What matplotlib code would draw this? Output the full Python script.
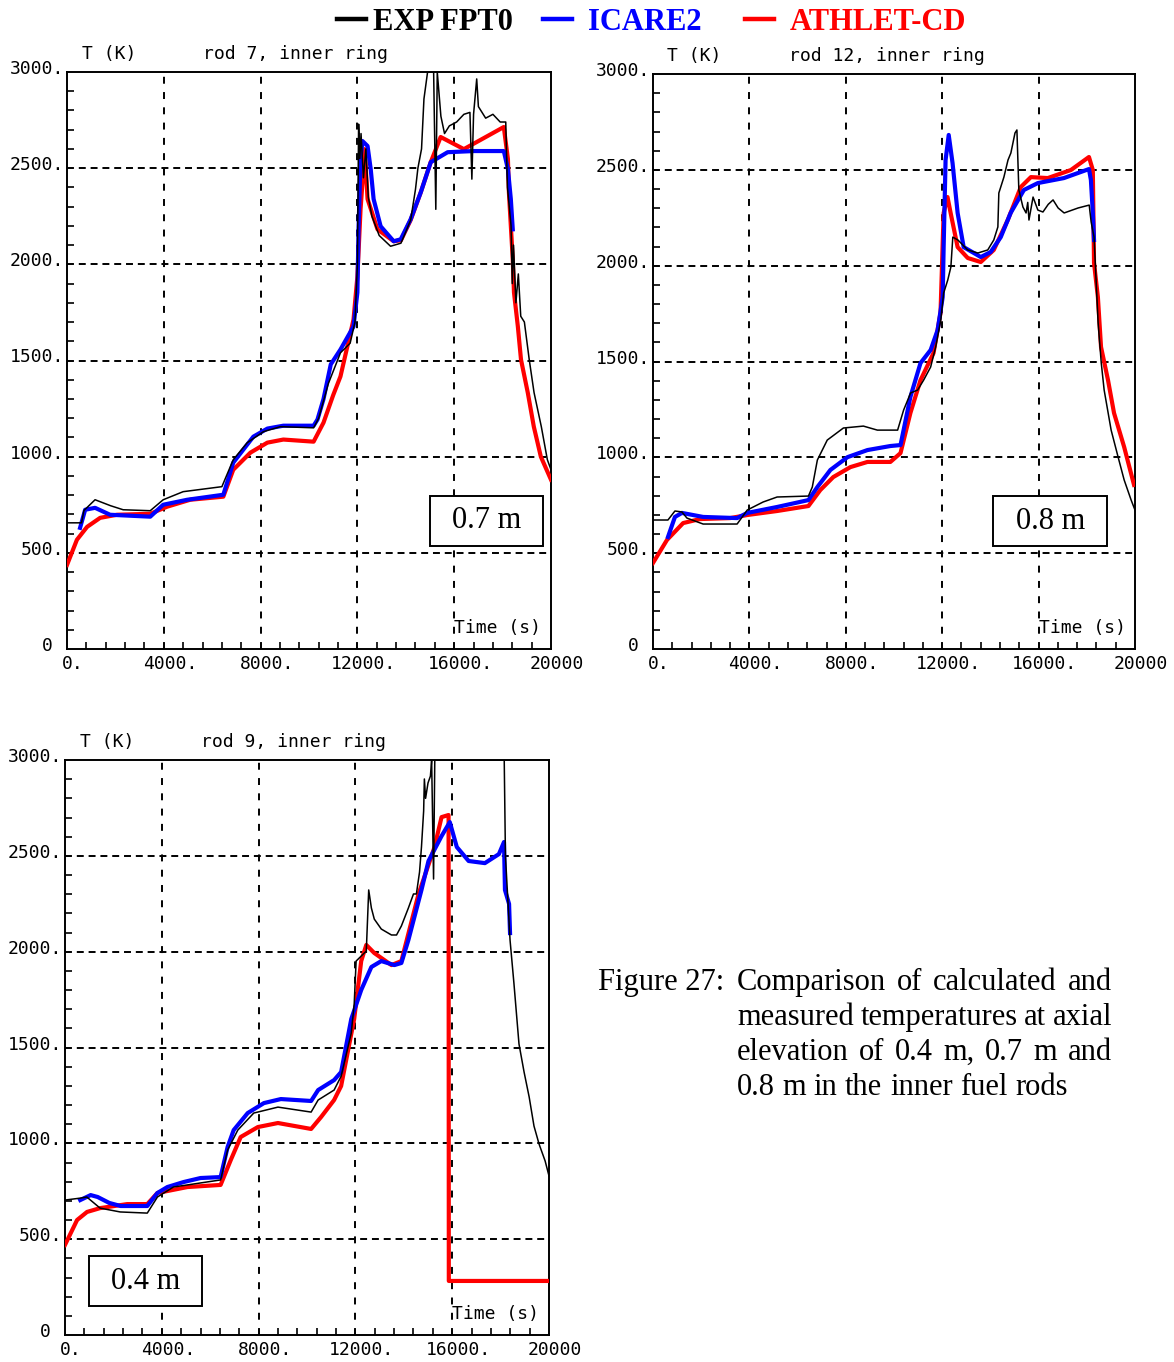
import matplotlib
matplotlib.use("Agg")
import matplotlib.pyplot as plt
from matplotlib.ticker import MultipleLocator
from matplotlib.lines import Line2D
from matplotlib.patches import Rectangle
from matplotlib.transforms import ScaledTranslation

plt.rcParams['lines.scale_dashes'] = False

W, H = 1174, 1362

# ---- rod 7, 0.7 m ----
exp7_t = [0, 600, 700, 1160, 1800, 2320, 3440, 3975, 4800, 6400, 6870, 7450, 8120, 8820, 10190,
          10400, 10800, 11300, 11700, 11900, 12000, 12050, 12100, 12150, 12250, 12350, 12450,
          12600, 12900, 13370, 13800, 14200, 14400, 14500, 14650, 14750, 14900, 15150, 15240,
          15300, 15450, 15600, 15800, 16100, 16400, 16650, 16730, 16800, 16930, 17000, 17300,
          17600, 17900, 18130, 18200, 18350, 18400, 18450, 18550, 18650, 18750, 18900, 19100,
          19300, 19600, 19850, 20000]
exp7_T = [656, 656, 720, 776, 745, 724, 719, 776, 818, 844, 984, 1073, 1130, 1156, 1150,
          1200, 1380, 1540, 1590, 1700, 2000, 2729, 2550, 2680, 2450, 2600, 2350,
          2250, 2150, 2094, 2110, 2230, 2390, 2500, 2600, 2860, 3000, 3000, 2286,
          3000, 2770, 2680, 2720, 2740, 2780, 2790, 2443, 2780, 2964, 2820, 2760,
          2780, 2740, 2740, 2400, 2200, 1900, 2100, 1800, 1950, 1730, 1700, 1505,
          1333, 1156, 984, 932]
icare7_t = [540, 750, 1160, 1780, 3440, 3975, 4970, 6460, 6870, 7700, 8280, 8940, 10190, 10350,
            10600, 10900, 11300, 11840, 12000, 12050, 12130, 12210, 12420, 12550, 12670, 12960,
            13500, 13790, 14200, 14620, 15030, 15730, 16810, 18050, 18220, 18340, 18420]
icare7_T = [630, 724, 734, 698, 688, 750, 776, 802, 969, 1104, 1146, 1161, 1161, 1193,
            1300, 1480, 1557, 1677, 1854, 2198, 2547, 2641, 2615, 2495, 2339, 2198,
            2120, 2130, 2234, 2375, 2531, 2583, 2589, 2589, 2495, 2339, 2182]
athlet7_t = [0, 410, 830, 1370, 2070, 3440, 4140, 5090, 6460, 6870, 7580, 8280, 8940, 10190,
             10600, 11000, 11300, 11840, 12000, 12130, 12250, 12300, 12420, 12830, 13500, 13800,
             14200, 14620, 15030, 15440, 16400, 18050, 18220, 18260, 18420, 18470, 18630, 18760,
             19040, 19290, 19580, 20000]
athlet7_T = [437, 568, 635, 682, 698, 703, 740, 776, 792, 932, 1021, 1073, 1089, 1078,
             1177, 1320, 1417, 1713, 1937, 2286, 2495, 2599, 2339, 2182, 2120, 2125,
             2230, 2375, 2531, 2662, 2599, 2714, 2547, 2375, 2026, 1854, 1677, 1505,
             1333, 1156, 1000, 880]

# ---- rod 12, 0.8 m ----
exp12_t = [0, 620, 910, 1200, 1410, 2080, 3490, 3910, 4570, 5150, 6450, 6610, 6820, 7230, 7900,
           8730, 9310, 10150, 10400, 10690, 10980, 11230, 11520, 11730, 11940, 12060, 12230,
           12360, 12440, 12650, 13060, 13480, 13890, 14140, 14310, 14350, 14560, 14730, 14850,
           15020, 15100, 15180, 15350, 15480, 15550, 15600, 15770, 15970, 16180, 16400, 16600,
           16810, 17060, 17640, 18100, 18180, 18300, 18470, 18600, 18720, 19010, 19300, 19550,
           19840, 20000]
exp12_T = [673, 673, 720, 715, 683, 652, 652, 725, 767, 793, 798, 845, 986, 1090, 1153,
           1163, 1142, 1142, 1247, 1336, 1351, 1403, 1471, 1576, 1716, 1857, 1925,
           1993, 2149, 2134, 2082, 2066, 2082, 2134, 2202, 2379, 2462, 2551, 2588,
           2692, 2708, 2395, 2306, 2275, 2330, 2238, 2358, 2290, 2280, 2320, 2343,
           2301, 2275, 2301, 2316, 2228, 2150, 1701, 1492, 1351, 1142, 1001, 882,
           777, 725]
icare12_t = [620, 910, 1200, 2080, 3490, 3910, 5150, 6450, 6820, 7360, 8070, 8900, 9850, 10270,
             10680, 11100, 11520, 11810, 12020, 12060, 12140, 12270, 12430, 12640, 12890, 13600,
             14010, 14430, 14840, 15390, 15970, 17050, 18090, 18170, 18250, 18300]
icare12_T = [584, 689, 710, 689, 683, 710, 741, 777, 845, 934, 1001, 1038, 1059, 1064,
             1315, 1492, 1560, 1664, 1836, 2097, 2551, 2682, 2535, 2275, 2097, 2045,
             2071, 2149, 2275, 2395, 2431, 2457, 2504, 2447, 2275, 2134]
athlet12_t = [0, 580, 1250, 1950, 3200, 3910, 5150, 6450, 6940, 7480, 8190, 8900, 9850, 10270,
              10680, 11100, 11640, 11930, 12060, 12220, 12350, 12640, 13060, 13600, 14140, 14720,
              15260, 15680, 16380, 17340, 18090, 18250, 18300, 18460, 18590, 18880, 19130, 19550,
              19960]
athlet12_T = [449, 569, 657, 678, 683, 699, 720, 746, 829, 897, 949, 976, 976, 1022,
              1231, 1403, 1544, 1753, 2275, 2358, 2275, 2097, 2040, 2019, 2082, 2238,
              2410, 2462, 2457, 2499, 2567, 2499, 2014, 1836, 1576, 1403, 1231, 1054,
              856]

# ---- rod 9, 0.4 m ----
exp9_t = [0, 620, 900, 1450, 2280, 3400, 3820, 4480, 6430, 6720, 7140, 7800, 8800, 10170,
          10460, 11120, 11410, 11830, 11950, 12030, 12450, 12550, 12660, 12780, 13070, 13490,
          13700, 13900, 14190, 14400, 14520, 14650, 14730, 14820, 14850, 14900, 15000, 15100,
          15150, 15230, 15280, 18150, 18200, 18390, 18550, 18760, 18970, 19180, 19380, 19590,
          19840, 20000]
exp9_T = [704, 714, 720, 662, 642, 636, 720, 772, 809, 965, 1069, 1158, 1189, 1163,
          1226, 1278, 1350, 1576, 1727, 1951, 2003, 2322, 2228, 2170, 2118, 2087,
          2087, 2134, 2228, 2301, 2301, 2415, 2546, 2734, 2901, 2800, 2880, 2916,
          3000, 2379, 3000, 3000, 2500, 2061, 1836, 1518, 1372, 1242, 1090, 996,
          908, 830]
icare9_t = [630, 1060, 1350, 1830, 2300, 3400, 3820, 4230, 4900, 5600, 6430, 6720, 6970, 7550,
            8220, 8920, 10170, 10460, 11120, 11410, 11830, 12240, 12660, 13070, 13610, 13900,
            14190, 14730, 15020, 15560, 15900, 16190, 16680, 17350, 17930, 18140, 18180, 18350,
            18390]
icare9_T = [704, 730, 720, 689, 673, 673, 741, 772, 798, 819, 824, 981, 1069, 1158,
            1210, 1231, 1221, 1278, 1330, 1372, 1649, 1800, 1920, 1951, 1930, 1941,
            2061, 2322, 2473, 2603, 2676, 2546, 2473, 2462, 2509, 2572, 2322, 2249,
            2097]
athlet9_t = [0, 500, 910, 1450, 2570, 3400, 3820, 5060, 6430, 6850, 7260, 7970, 8800, 10170,
             10580, 11120, 11410, 11950, 12240, 12450, 12780, 13490, 13900, 14610, 15270, 15560,
             15850, 15860, 20000]
athlet9_T = [470, 600, 642, 662, 683, 683, 741, 772, 783, 913, 1033, 1085, 1106, 1075,
             1137, 1226, 1299, 1649, 1951, 2035, 1993, 1930, 1951, 2301, 2546, 2702,
             2713, 282, 282]

x_ticks = [0, 4000, 8000, 12000, 16000, 20000]
x_ticklabels = ['0.', '4000.', '8000.', '12000.', '16000.', '20000']
y_ticks = [0, 500, 1000, 1500, 2000, 2500, 3000]
y_ticklabels = ['0 ', '500.', '1000.', '1500.', '2000.', '2500.', '3000.']

MONO = 'DejaVu Sans Mono'
SERIF = 'Liberation Serif'


def rect(x0, y0, x1, y1):
    return [x0 / W, 1 - y1 / H, (x1 - x0) / W, (y1 - y0) / H]


def panel(ax, exp, icare, athlet, title, tag, tag_box):
    for v in x_ticks[1:-1]:
        ax.axvline(v, color='k', lw=1.4, ls=(0, (5.0, 6.0)), zorder=1)
    for h in y_ticks[1:-1]:
        ax.axhline(h, color='k', lw=1.4, ls=(0, (5.0, 3.5)), zorder=1)

    ax.plot(*athlet, color='#ff0000', lw=3.0, zorder=3)
    ax.plot(*icare, color='#0000ff', lw=3.0, zorder=4)
    ax.plot(*exp, color='k', lw=1.1, zorder=5)

    ax.set_xlim(0, 20000)
    ax.set_ylim(0, 3000)
    ax.set_xticks(x_ticks)
    ax.set_xticklabels(x_ticklabels, fontfamily=MONO, fontsize=13)
    ax.set_yticks(y_ticks)
    ax.set_yticklabels(y_ticklabels, fontfamily=MONO, fontsize=13, va='center')
    ax.xaxis.set_minor_locator(MultipleLocator(800))
    ax.yaxis.set_minor_locator(MultipleLocator(100))
    ax.tick_params(which='major', length=0)
    ax.tick_params(axis='x', which='major', pad=4)
    ax.tick_params(axis='y', which='major', pad=2)
    ax.tick_params(which='minor', direction='in', length=5, width=1.2)
    for s in ax.spines.values():
        s.set_linewidth(1.4)

    # digits sit centred on the tick, the trailing dot hangs to the right
    shift_x = ScaledTranslation(6 / 100, 0, ax.figure.dpi_scale_trans)
    for lbl in ax.get_xticklabels():
        lbl.set_transform(lbl.get_transform() + shift_x)
    shift_y = ScaledTranslation(0, 3 / 100, ax.figure.dpi_scale_trans)
    for lbl in ax.get_yticklabels():
        lbl.set_transform(lbl.get_transform() + shift_y)

    ax.text(0.03, 1.015, 'T (K)', transform=ax.transAxes, fontfamily=MONO,
            fontsize=13, va='bottom')
    ax.text(0.282, 1.015, title, transform=ax.transAxes, fontfamily=MONO,
            fontsize=13, va='bottom')
    ax.text(0.80, 0.028, 'Time (s)', transform=ax.transAxes, fontfamily=MONO,
            fontsize=13, va='baseline')

    x0, y0, x1, y1 = tag_box
    ax.add_patch(Rectangle((x0, y0), x1 - x0, y1 - y0, transform=ax.transAxes,
                           facecolor='white', edgecolor='k', lw=1.4, zorder=6))
    ax.text((x0 + x1) / 2, (y0 + y1) / 2, tag, transform=ax.transAxes,
            fontfamily=SERIF, fontsize=22, ha='center', va='center', zorder=7)


fig = plt.figure(figsize=(W / 100, H / 100), dpi=100)

ax1 = fig.add_axes(rect(67, 72, 551, 649))
ax2 = fig.add_axes(rect(653, 74, 1135, 649))
ax3 = fig.add_axes(rect(65, 760, 549, 1335))

panel(ax1, (exp7_t, exp7_T), (icare7_t, icare7_T), (athlet7_t, athlet7_T),
      'rod 7, inner ring', '0.7 m', (0.75, 0.179, 0.983, 0.266))
panel(ax2, (exp12_t, exp12_T), (icare12_t, icare12_T), (athlet12_t, athlet12_T),
      'rod 12, inner ring', '0.8 m', (0.706, 0.179, 0.942, 0.266))
panel(ax3, (exp9_t, exp9_T), (icare9_t, icare9_T), (athlet9_t, athlet9_T),
      'rod 9, inner ring', '0.4 m', (0.05, 0.05, 0.283, 0.137))

# legend row across the top
legend_items = [('EXP FPT0', 'k', 337, 373), ('ICARE2', '#0000ff', 543, 588),
                ('ATHLET-CD', '#ff0000', 745, 790)]
for label, col, xl, xt in legend_items:
    fig.add_artist(Line2D([xl / W, (xl + 29) / W], [1 - 19 / H, 1 - 19 / H],
                          color=col, lw=3.2, transform=fig.transFigure))
    fig.text(xt / W, 1 - 30 / H, label, color=col, fontfamily=SERIF,
             fontweight='bold', fontsize=22, va='baseline')

# caption, justified with a hanging indent
caption = ['Comparison of calculated and',
           'measured temperatures at axial',
           'elevation of 0.4 m, 0.7 m and',
           '0.8 m in the inner fuel rods']
cap_kw = dict(fontfamily=SERIF, fontsize=22, va='baseline')
fig.text(598 / W, 1 - 990 / H, 'Figure 27:', **cap_kw)
renderer = fig.canvas.get_renderer()
left, right = 737, 1112
for i, line in enumerate(caption):
    yb = 1 - (990 + 35 * i) / H
    words = line.split()
    texts = [fig.text(0, yb, w, **cap_kw) for w in words]
    widths = [t.get_window_extent(renderer).width for t in texts]
    if i < len(caption) - 1:
        gap = (right - left - sum(widths)) / (len(words) - 1)
    else:
        gap = 7.6
    x = left
    for t, w in zip(texts, widths):
        t.set_x(x / W)
        x += w + gap

fig.savefig('out.png', dpi=100)
